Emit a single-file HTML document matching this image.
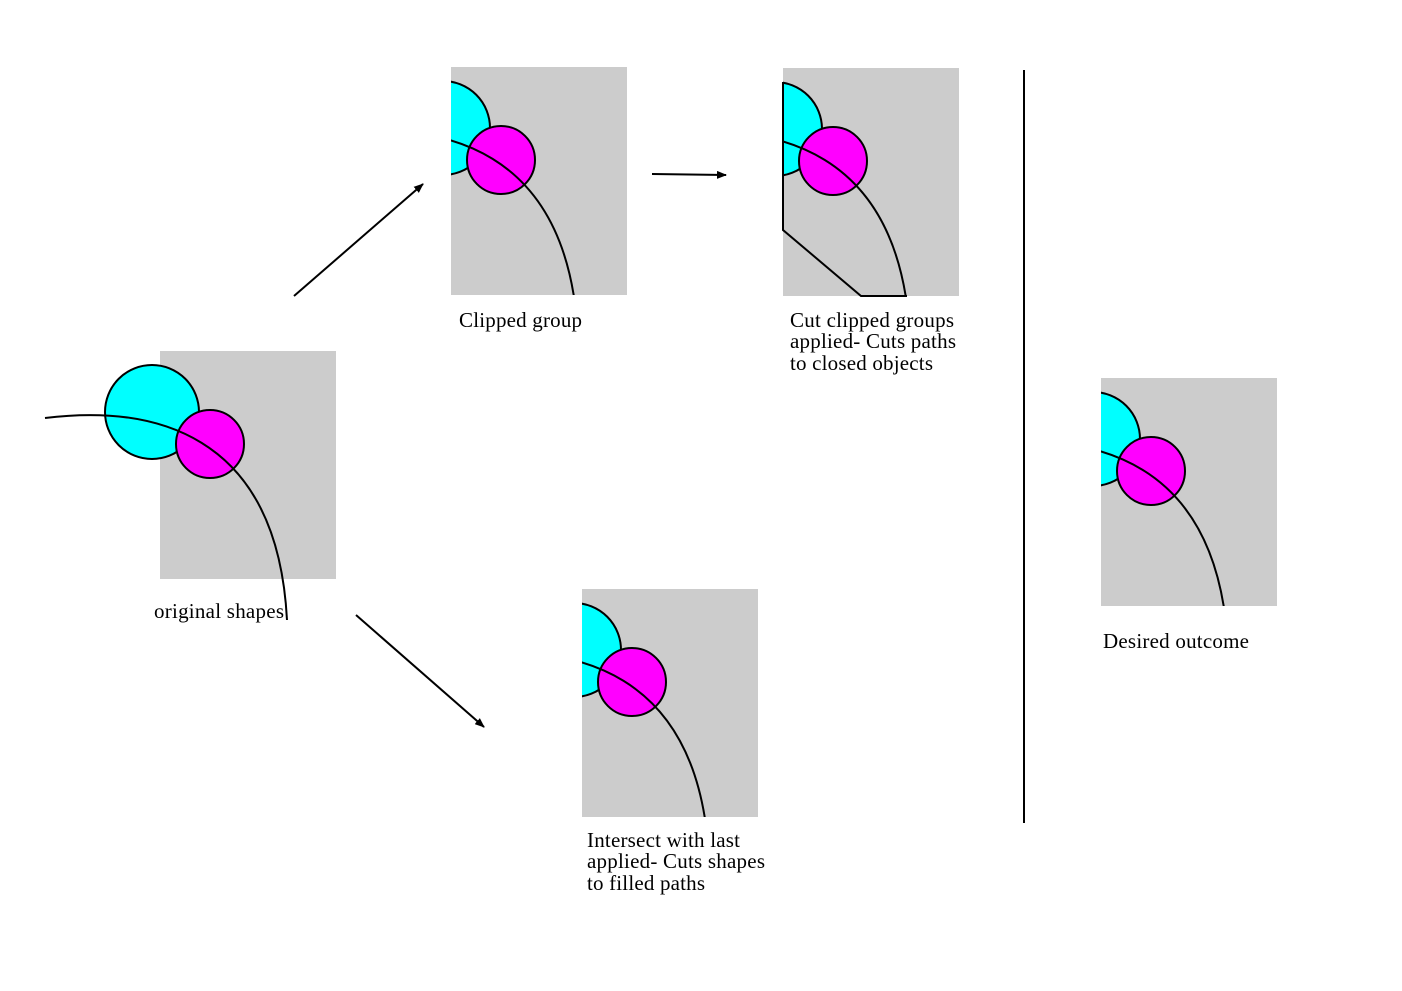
<!DOCTYPE html>
<html><head><meta charset="utf-8"><style>
html,body{margin:0;padding:0;background:#fff;}
svg text{font-family:"Liberation Serif",serif;font-size:21px;fill:#000;}
</style></head><body>
<svg width="1402" height="986" viewBox="0 0 1402 986" xmlns="http://www.w3.org/2000/svg">
<defs>
<clipPath id="cr"><rect x="160" y="351" width="176" height="228"/></clipPath>
<marker id="ah" markerWidth="10" markerHeight="8" refX="9" refY="4" orient="auto" markerUnits="userSpaceOnUse">
<path d="M0,0 L10,4 L0,8 Z" fill="#000"/></marker>
<g id="shapes">
<circle cx="152" cy="412" r="47" fill="#00ffff" stroke="#000" stroke-width="2"/>
<circle cx="210" cy="444" r="34" fill="#ff00ff" stroke="#000" stroke-width="2"/>
<path d="M45,418 C150,405 277,430 287,620" fill="none" stroke="#000" stroke-width="2"/>
</g>
</defs>

<rect x="160" y="351" width="176" height="228" fill="#cccccc"/>
<use href="#shapes"/>
<text x="154" y="618" textLength="130">original shapes</text>

<g transform="translate(291,-284)">
<rect x="160" y="351" width="176" height="228" fill="#cccccc"/>
<g clip-path="url(#cr)"><use href="#shapes"/></g>
</g>
<text x="459" y="327" textLength="123">Clipped group</text>

<g transform="translate(623,-283)">
<rect x="160" y="351" width="176" height="228" fill="#cccccc"/>
<g clip-path="url(#cr)"><use href="#shapes"/></g>
<path d="M160,365 L160,513 L238,579 L284,579" fill="none" stroke="#000" stroke-width="2"/>
</g>
<text x="790" y="327" textLength="164">Cut clipped groups</text>
<text x="790" y="348" textLength="166">applied- Cuts paths</text>
<text x="790" y="370" textLength="143">to closed objects</text>

<g transform="translate(422,238)">
<rect x="160" y="351" width="176" height="228" fill="#cccccc"/>
<g clip-path="url(#cr)"><use href="#shapes"/></g>
</g>
<text x="587" y="847" textLength="153">Intersect with last</text>
<text x="587" y="868" textLength="178">applied- Cuts shapes</text>
<text x="587" y="890" textLength="118">to filled paths</text>

<g transform="translate(941,27)">
<rect x="160" y="351" width="176" height="228" fill="#cccccc"/>
<g clip-path="url(#cr)"><use href="#shapes"/></g>
</g>
<text x="1103" y="648" textLength="146">Desired outcome</text>

<line x1="294" y1="296" x2="423" y2="184" stroke="#000" stroke-width="2" marker-end="url(#ah)"/>
<line x1="652" y1="174" x2="726" y2="175" stroke="#000" stroke-width="2" marker-end="url(#ah)"/>
<line x1="356" y1="615" x2="484" y2="727" stroke="#000" stroke-width="2" marker-end="url(#ah)"/>
<line x1="1024" y1="70" x2="1024" y2="823" stroke="#000" stroke-width="2"/>
</svg>
</body></html>
